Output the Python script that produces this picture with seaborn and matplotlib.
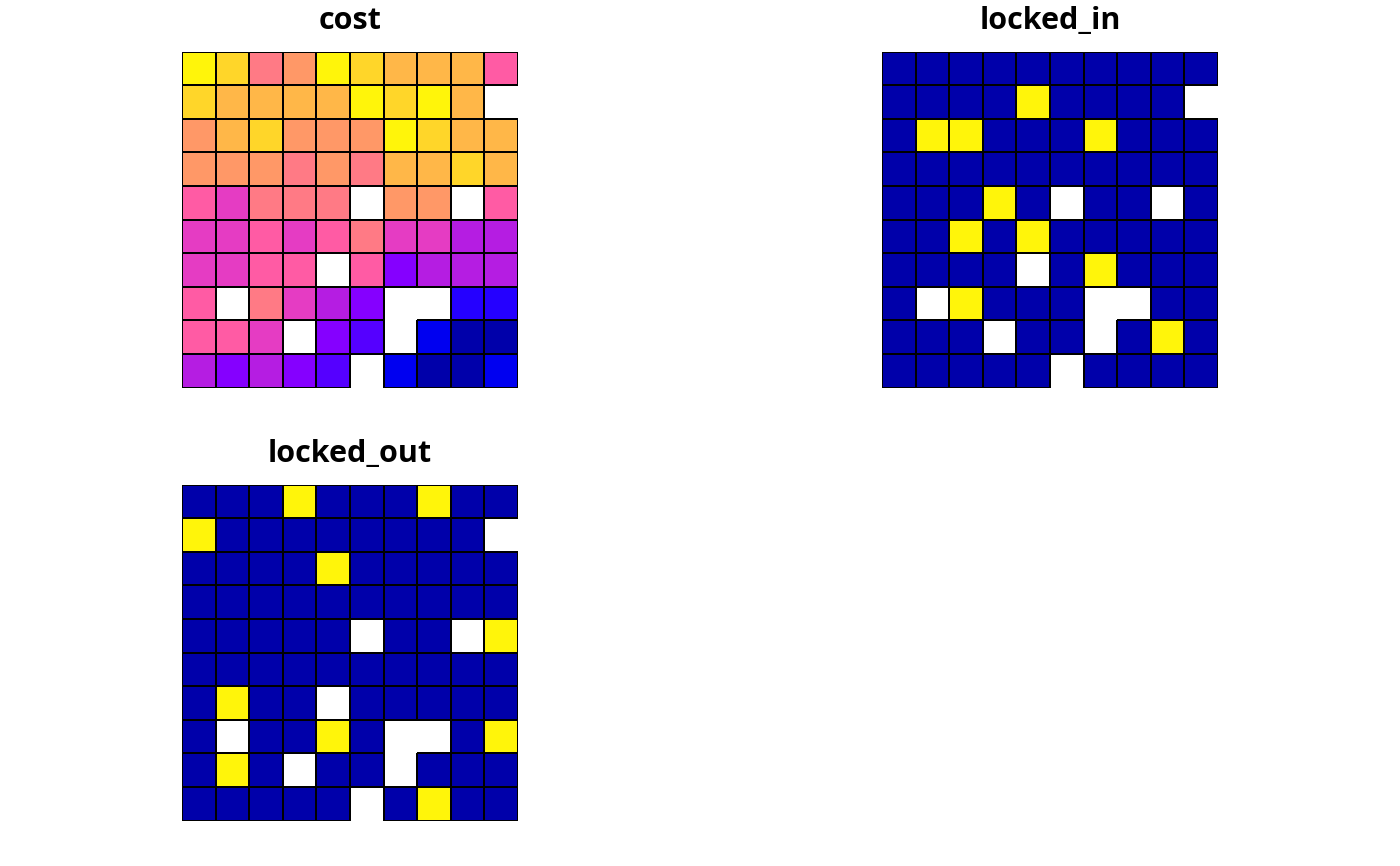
import numpy as np
import seaborn as sns
import matplotlib.pyplot as plt
from matplotlib.colors import ListedColormap

nan = np.nan

# cost colour class per planning unit (0 = lowest, 12 = highest)
cost = [
    [12, 11, 8, 9, 12, 11, 10, 10, 10, 7],
    [11, 10, 10, 10, 10, 12, 11, 12, 10, nan],
    [9, 10, 11, 9, 9, 9, 12, 11, 10, 10],
    [9, 9, 9, 8, 9, 8, 10, 10, 11, 10],
    [7, 6, 8, 8, 8, nan, 9, 9, nan, 7],
    [6, 6, 7, 6, 7, 8, 6, 6, 5, 5],
    [6, 6, 7, 7, nan, 7, 4, 5, 5, 5],
    [7, nan, 8, 6, 5, 4, nan, nan, 2, 2],
    [7, 7, 6, nan, 4, 3, nan, 1, 0, 0],
    [5, 4, 5, 4, 3, nan, 1, 0, 0, 1],
]

locked_in = [
    [0, 0, 0, 0, 0, 0, 0, 0, 0, 0],
    [0, 0, 0, 0, 1, 0, 0, 0, 0, nan],
    [0, 1, 1, 0, 0, 0, 1, 0, 0, 0],
    [0, 0, 0, 0, 0, 0, 0, 0, 0, 0],
    [0, 0, 0, 1, 0, nan, 0, 0, nan, 0],
    [0, 0, 1, 0, 1, 0, 0, 0, 0, 0],
    [0, 0, 0, 0, nan, 0, 1, 0, 0, 0],
    [0, nan, 1, 0, 0, 0, nan, nan, 0, 0],
    [0, 0, 0, nan, 0, 0, nan, 0, 1, 0],
    [0, 0, 0, 0, 0, nan, 0, 0, 0, 0],
]

locked_out = [
    [0, 0, 0, 1, 0, 0, 0, 1, 0, 0],
    [1, 0, 0, 0, 0, 0, 0, 0, 0, nan],
    [0, 0, 0, 0, 1, 0, 0, 0, 0, 0],
    [0, 0, 0, 0, 0, 0, 0, 0, 0, 0],
    [0, 0, 0, 0, 0, nan, 0, 0, nan, 1],
    [0, 0, 0, 0, 0, 0, 0, 0, 0, 0],
    [0, 1, 0, 0, nan, 0, 0, 0, 0, 0],
    [0, nan, 0, 0, 1, 0, nan, nan, 0, 1],
    [0, 1, 0, nan, 0, 0, nan, 0, 0, 0],
    [0, 0, 0, 0, 0, nan, 0, 1, 0, 0],
]

# sf.colors style palettes
cost_colors = ['#0000AA', '#0000F0', '#2500FF', '#5500FF', '#8500FF', '#B51DE2',
               '#E53CC3', '#FF5BA4', '#FF7A85', '#FF9867', '#FFB748', '#FFD629', '#FFF50A']
lock_colors = ['#0000AA', '#FFF50A']

plt.rcParams['font.family'] = ['Open Sans', 'DejaVu Sans']

fig = plt.figure(figsize=(14, 8.66), dpi=100)

panels = [
    ('cost', cost, cost_colors, [0.13, 0.552, 0.24, 0.389]),
    ('locked_in', locked_in, lock_colors, [0.63, 0.552, 0.24, 0.389]),
    ('locked_out', locked_out, lock_colors, [0.13, 0.052, 0.24, 0.389]),
]

for name, grid, colors, box in panels:
    ax = fig.add_axes(box)
    data = np.array(grid, dtype=float)
    missing = np.isnan(data)
    sns.heatmap(data, ax=ax, cmap=ListedColormap(colors), vmin=-0.5,
                vmax=len(colors) - 0.5, mask=missing, cbar=False,
                linewidths=1.4, linecolor='black', square=True,
                xticklabels=False, yticklabels=False)
    # missing planning units get no outline
    mesh = ax.collections[0]
    mesh.set_edgecolor(['none' if m else 'black' for m in missing.ravel()])
    ax.set_title(name, fontsize=22, fontweight='bold', pad=16)

fig.savefig('out.png', dpi=100)
